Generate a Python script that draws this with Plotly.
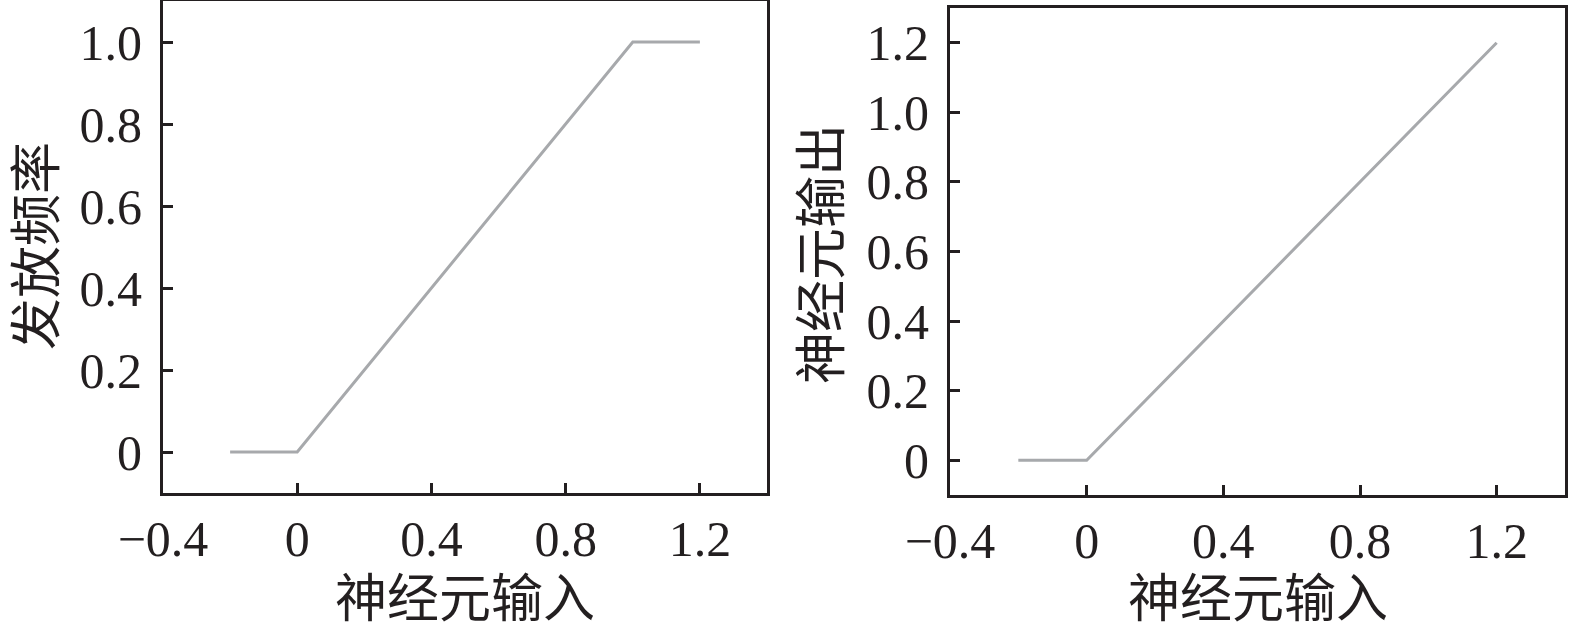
import plotly.graph_objects as go
from plotly.subplots import make_subplots

# Left panel: firing rate (saturating linear)
left_x = [-0.2, 0.0, 1.0, 1.2]
left_y = [0.0, 0.0, 1.0, 1.0]
# Right panel: neuron output (ReLU)
right_x = [-0.2, 0.0, 1.2]
right_y = [0.0, 0.0, 1.2]

x_ticks = [-0.4, 0, 0.4, 0.8, 1.2]
x_tick_text = ["−0.4", "0", "0.4", "0.8", "1.2"]
left_y_ticks = [0, 0.2, 0.4, 0.6, 0.8, 1.0]
left_y_text = ["0", "0.2", "0.4", "0.6", "0.8", "1.0"]
right_y_ticks = [0, 0.2, 0.4, 0.6, 0.8, 1.0, 1.2]
right_y_text = ["0", "0.2", "0.4", "0.6", "0.8", "1.0", "1.2"]

x_title = "神经元输入"
left_y_title = "发放频率"
right_y_title = "神经元输出"

LINE = "#a7a9ac"
AX = "#231f20"
TICKFONT = dict(family="Liberation Serif, Times New Roman, serif", size=50, color=AX)
TITLEFONT = dict(family="Noto Sans CJK SC", size=52, color=AX)

fig = make_subplots(rows=1, cols=2)
fig.add_trace(go.Scatter(x=left_x, y=left_y, mode="lines",
                         line=dict(color=LINE, width=3), showlegend=False), 1, 1)
fig.add_trace(go.Scatter(x=right_x, y=right_y, mode="lines",
                         line=dict(color=LINE, width=3), showlegend=False), 1, 2)

axis_common = dict(showline=True, linewidth=3, linecolor=AX, mirror=True,
                   ticks="inside", ticklen=10, tickwidth=3, tickcolor=AX,
                   showgrid=False, zeroline=False, tickfont=TICKFONT,
                   automargin=False)

left_dom = [163/1575, 767/1575]
right_dom = [950/1575, 1565/1575]

fig.update_layout(
    template="none",
    width=1575, height=625,
    margin=dict(l=0, r=0, t=0, b=130, autoexpand=False),
    plot_bgcolor="white", paper_bgcolor="white",
    xaxis=dict(domain=left_dom, range=[-0.4, 1.4],
               tickvals=x_ticks, ticktext=x_tick_text,
               ticklabelstandoff=0, **axis_common),
    yaxis=dict(domain=[2/495, 494/495], range=[-0.1, 1.1],
               tickvals=left_y_ticks, ticktext=left_y_text,
               ticklabelstandoff=8, **axis_common),
    xaxis2=dict(domain=right_dom, range=[-0.4, 1.4],
                tickvals=x_ticks, ticktext=x_tick_text,
                ticklabelstandoff=0, **axis_common),
    yaxis2=dict(domain=[0, 487/495], range=[-0.1, 1.3], anchor="x2",
                tickvals=right_y_ticks, ticktext=right_y_text,
                ticklabelstandoff=8, **axis_common),
)

# x-axis titles
for dom in (left_dom, right_dom):
    fig.add_annotation(text=x_title, xref="paper", yref="paper",
                       x=(dom[0] + dom[1]) / 2, y=-0.2,
                       xanchor="center", yanchor="middle",
                       showarrow=False, font=TITLEFONT)

# y-axis titles (rotated)
fig.add_annotation(text=left_y_title, xref="paper", yref="paper",
                   x=32/1575, y=0.503, xanchor="center", yanchor="middle",
                   textangle=-90, showarrow=False, font=TITLEFONT)
fig.add_annotation(text=right_y_title, xref="paper", yref="paper",
                   x=818/1575, y=0.487, xanchor="center", yanchor="middle",
                   textangle=-90, showarrow=False, font=TITLEFONT)

fig.write_html("out.html",
               config={"displayModeBar": False},
               post_script="document.body.style.margin='0';document.body.style.overflow='hidden';")
